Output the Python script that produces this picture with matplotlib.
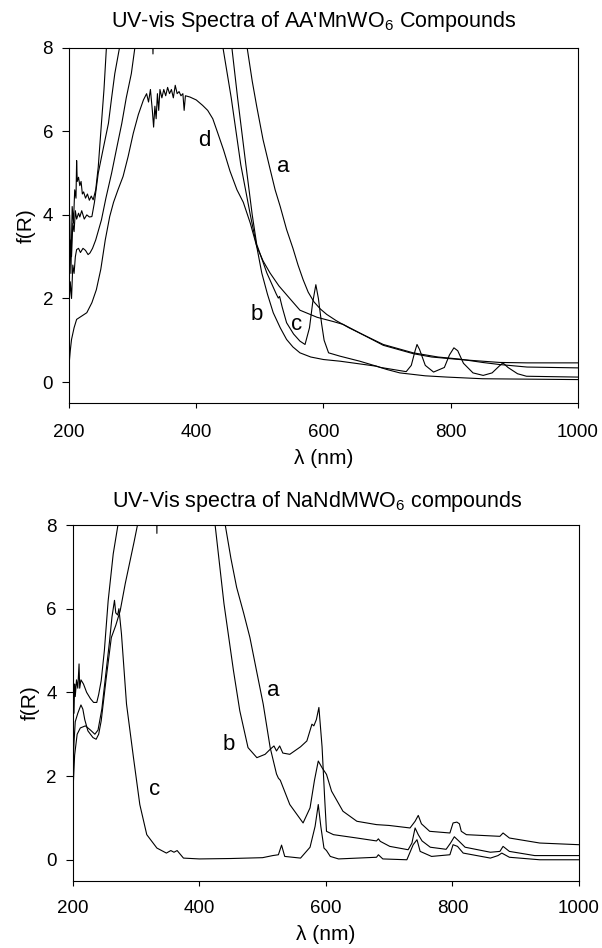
import matplotlib
matplotlib.use("Agg")
import matplotlib.pyplot as plt

plt.rcParams['font.family'] = ['Liberation Sans', 'DejaVu Sans']
plt.rcParams['mathtext.fontset'] = 'custom'
plt.rcParams['mathtext.rm'] = 'Liberation Sans'
plt.rcParams['mathtext.it'] = 'Liberation Sans:italic'

# ---- top panel: AA'MnWO6 ----
top_a_nm = [200, 201, 203, 205, 207, 209, 211, 212, 213, 215,
            217, 219, 221, 223, 226, 229, 232, 235, 238, 242,
            246, 251, 255, 259, 270, 300, 350, 400, 450, 470,
            480, 488, 495, 505, 516, 524, 532, 542, 552, 560,
            568, 576, 585, 595, 605, 620, 640, 660, 694, 741,
            770, 814, 850, 877, 920, 1000]
top_a_fr = [3.2, 4.0, 2.6, 4.2, 3.8, 4.6, 4.4, 5.3, 4.8, 4.9,
            4.7, 4.8, 4.5, 4.55, 4.4, 4.5, 4.35, 4.45, 4.36, 4.6,
            5.15, 6.19, 7.0, 8.05, 10.0, 12.0, 13.0, 12.5, 10.5, 9.0,
            8.0, 7.2, 6.6, 5.8, 5.1, 4.6, 4.2, 3.65, 3.2, 2.8,
            2.45, 2.15, 1.92, 1.75, 1.62, 1.47, 1.3, 1.15, 0.88, 0.68,
            0.6, 0.54, 0.5, 0.47, 0.46, 0.46]

top_b_nm = [200, 202, 204, 206, 208, 210, 212, 215, 218, 222,
            226, 230, 233, 237, 242, 251, 258, 267, 275, 283,
            290, 298, 304, 315, 330, 332, 334, 360, 400, 435,
            442, 455, 470, 485, 495, 503, 512, 521, 532, 542,
            552, 563, 580, 600, 626, 650, 683, 700, 720, 760,
            794, 850, 1000]
top_b_fr = [1.8, 2.4, 2.0, 2.8, 2.6, 3.0, 3.17, 3.2, 3.1, 3.2,
            3.15, 3.05, 3.09, 3.2, 3.4, 3.88, 4.4, 5.0, 5.6, 6.19,
            6.8, 7.38, 8.05, 9.0, 9.3, 7.85, 9.3, 11.0, 11.0, 9.0,
            8.0, 6.8, 5.2, 4.0, 3.25, 2.61, 2.1, 1.66, 1.3, 1.02,
            0.84, 0.7, 0.6, 0.54, 0.5, 0.45, 0.38, 0.3, 0.22, 0.15,
            0.12, 0.08, 0.06]

top_c_nm = [200, 202, 204, 206, 208, 210, 212, 215, 217, 220,
            224, 228, 232, 236, 240, 246, 254, 262, 267, 272,
            280, 290, 320, 380, 430, 445, 456, 465, 478, 488,
            495, 511, 526, 529, 531, 535, 542, 553, 563, 571,
            578, 583, 588, 592, 597, 601, 608, 626, 657, 690,
            730, 738, 744, 747, 751, 760, 773, 790, 798, 805,
            811, 820, 835, 851, 865, 876, 882, 890, 905, 919,
            1000]
top_c_fr = [2.5, 3.4, 3.0, 3.8, 3.6, 4.1, 3.9, 4.04, 3.95, 4.1,
            3.9, 4.0, 3.95, 3.96, 4.3, 5.0, 5.6, 6.19, 6.8, 7.38,
            8.05, 9.5, 11.5, 12.0, 10.5, 9.0, 8.0, 6.8, 5.2, 4.0,
            3.3, 2.61, 2.1, 2.01, 2.05, 1.8, 1.42, 1.15, 0.98, 0.9,
            1.3, 1.9, 2.33, 2.0, 1.4, 1.0, 0.7, 0.62, 0.5, 0.35,
            0.25, 0.4, 0.75, 0.9, 0.78, 0.4, 0.24, 0.35, 0.65, 0.82,
            0.75, 0.45, 0.22, 0.16, 0.22, 0.38, 0.46, 0.35, 0.2, 0.14,
            0.12]

top_d_nm = [200, 202, 204, 208, 212, 220, 228, 236, 243, 250,
            257, 264, 270, 277, 285, 293, 301, 309, 317, 322,
            325, 328, 331, 333, 335, 337, 339, 341, 343, 346,
            349, 352, 355, 358, 361, 364, 367, 370, 373, 376,
            379, 381, 383, 390, 400, 410, 418, 426, 434, 443,
            453, 464, 474, 485, 495, 505, 516, 530, 547, 563,
            590, 615, 631, 660, 694, 741, 780, 814, 850, 877,
            920, 1000]
top_d_fr = [0.4, 0.75, 1.02, 1.3, 1.5, 1.58, 1.66, 1.9, 2.21, 2.7,
            3.4, 3.96, 4.3, 4.6, 4.92, 5.4, 5.95, 6.4, 6.75, 6.9,
            6.7, 7.0, 6.5, 6.1, 6.6, 6.3, 6.9, 6.5, 7.0, 6.8,
            7.0, 6.85, 7.05, 6.9, 7.0, 6.8, 7.1, 6.9, 6.95, 6.85,
            6.9, 6.5, 6.85, 6.82, 6.75, 6.62, 6.5, 6.3, 5.95, 5.55,
            5.05, 4.6, 4.3, 3.8, 3.25, 2.9, 2.61, 2.3, 2.0, 1.72,
            1.55, 1.45, 1.38, 1.15, 0.9, 0.7, 0.6, 0.55, 0.47, 0.42,
            0.36, 0.34]

# ---- bottom panel: NaNdMWO6 ----
bot_a_nm = [200, 201, 202, 203, 204, 206, 208, 210, 211, 213,
            217, 222, 228, 233, 238, 241, 245, 250, 256, 264,
            272, 285, 300, 331, 333, 335, 360, 400, 418, 425,
            439, 454, 464, 477, 491, 504, 512, 518, 522, 527,
            532, 543, 560, 570, 578, 581, 585, 589, 594, 598,
            601, 612, 649, 680, 683, 686, 701, 730, 736, 741,
            746, 752, 765, 790, 797, 803, 810, 820, 860, 875,
            880, 890, 930, 1000]
bot_a_fr = [3.6, 4.1, 3.5, 4.2, 3.9, 4.3, 4.1, 4.68, 4.1, 4.3,
            4.2, 4.0, 3.85, 3.76, 3.76, 3.95, 4.28, 5.0, 6.19, 7.31,
            8.05, 9.5, 10.5, 11.0, 7.8, 11.0, 12.0, 11.5, 9.2, 8.0,
            6.12, 4.52, 3.56, 2.68, 2.44, 2.52, 2.64, 2.72, 2.6, 2.72,
            2.55, 2.52, 2.7, 2.84, 3.24, 3.2, 3.35, 3.64, 2.7, 1.5,
            0.68, 0.6, 0.52, 0.45, 0.5, 0.44, 0.32, 0.24, 0.4, 0.76,
            0.6, 0.45, 0.3, 0.25, 0.4, 0.55, 0.45, 0.3, 0.18, 0.2,
            0.32, 0.2, 0.1, 0.1]

bot_b_nm = [200, 202, 204, 208, 213, 216, 219, 224, 232, 237,
            241, 245, 253, 261, 268, 275, 283, 290, 297, 303,
            315, 350, 400, 430, 441, 450, 459, 470, 480, 490,
            501, 512, 522, 525, 528, 543, 564, 575, 582, 588,
            594, 601, 609, 627, 649, 680, 700, 733, 741, 746,
            751, 764, 796, 801, 807, 811, 814, 822, 875, 880,
            890, 938, 1000]
bot_b_fr = [2.0, 2.8, 3.3, 3.5, 3.7, 3.6, 3.35, 3.08, 2.92, 2.88,
            3.0, 3.32, 4.35, 5.31, 5.6, 5.95, 6.6, 7.1, 7.6, 8.05,
            9.5, 11.5, 12.0, 9.5, 8.0, 7.2, 6.51, 5.9, 5.31, 4.55,
            3.72, 2.68, 2.05, 1.95, 1.9, 1.32, 0.88, 1.24, 1.9, 2.36,
            2.2, 2.04, 1.64, 1.16, 0.92, 0.84, 0.82, 0.76, 0.92, 1.06,
            0.86, 0.68, 0.64, 0.88, 0.9, 0.86, 0.68, 0.6, 0.56, 0.64,
            0.52, 0.4, 0.36]

bot_c_nm = [200, 203, 207, 212, 220, 228, 235, 240, 246, 252,
            258, 262, 266, 268, 271, 273, 277, 285, 296, 306,
            317, 333, 348, 355, 360, 365, 375, 400, 450, 500,
            516, 525, 530, 535, 560, 575, 583, 588, 592, 597,
            601, 607, 620, 680, 683, 690, 728, 738, 744, 749,
            767, 796, 801, 808, 817, 860, 872, 878, 890, 938,
            1000]
bot_c_fr = [1.5, 2.5, 3.0, 3.15, 3.2, 3.1, 3.0, 3.1, 3.6, 4.4,
            5.2, 5.8, 6.2, 5.9, 5.85, 6.0, 5.4, 3.72, 2.44, 1.32,
            0.6, 0.28, 0.16, 0.22, 0.18, 0.22, 0.04, 0.02, 0.03, 0.05,
            0.1, 0.12, 0.35, 0.08, 0.04, 0.3, 0.8, 1.32, 0.8, 0.28,
            0.22, 0.08, 0.02, 0.06, 0.12, 0.02, 0.0, 0.36, 0.48, 0.2,
            0.08, 0.12, 0.36, 0.32, 0.16, 0.04, 0.1, 0.16, 0.06, 0.0,
            0.0]

top_labels = [("a", 536, 5.16), ("d", 412, 5.79), ("b", 495, 1.62), ("c", 557, 1.38)]
bot_labels = [("a", 517, 4.04), ("b", 446, 2.76), ("c", 330, 1.68)]

x_ticks = [200, 400, 600, 800, 1000]
y_ticks = [0, 2, 4, 6, 8]


def style_axes(ax, x_pad):
    ax.set_xlim(200, 1000)
    ax.set_ylim(-0.5, 8)
    ax.set_xticks(x_ticks)
    ax.set_yticks(y_ticks)
    ax.tick_params(axis='x', direction='out', length=3.6, width=0.8, pad=x_pad, labelsize=13.5)
    ax.tick_params(axis='y', direction='out', length=5, width=0.8, pad=6.5, labelsize=13.5)
    for spine in ax.spines.values():
        spine.set_linewidth(0.8)
    ax.set_xlabel("λ (nm)", fontsize=15, labelpad=6)
    ax.set_ylabel("f(R)", fontsize=15, labelpad=5)


fig = plt.figure(figsize=(6.02, 9.48), dpi=100)

ax1 = fig.add_axes([0.1146, 0.5749, 0.8455, 0.3748])
for nm, fr in [(top_a_nm, top_a_fr), (top_b_nm, top_b_fr), (top_c_nm, top_c_fr), (top_d_nm, top_d_fr)]:
    ax1.plot(nm, fr, color='black', lw=0.8)
for txt, x, y in top_labels:
    ax1.text(x, y, txt, fontsize=16, ha='center', va='center')
style_axes(ax1, 11.5)

ax2 = fig.add_axes([0.1208, 0.0710, 0.8410, 0.3752])
for nm, fr in [(bot_a_nm, bot_a_fr), (bot_b_nm, bot_b_fr), (bot_c_nm, bot_c_fr)]:
    ax2.plot(nm, fr, color='black', lw=0.8)
for txt, x, y in bot_labels:
    ax2.text(x, y, txt, fontsize=16, ha='center', va='center')
style_axes(ax2, 10)

fig.text(0.5216, 0.9712, "UV-vis Spectra of AA'MnWO$_6$ Compounds", fontsize=15.5,
         ha='center', va='baseline')
fig.text(0.527, 0.4655, "UV-Vis spectra of NaNdMWO$_6$ compounds", fontsize=15.5,
         ha='center', va='baseline')

fig.savefig("out.png", dpi=100)
